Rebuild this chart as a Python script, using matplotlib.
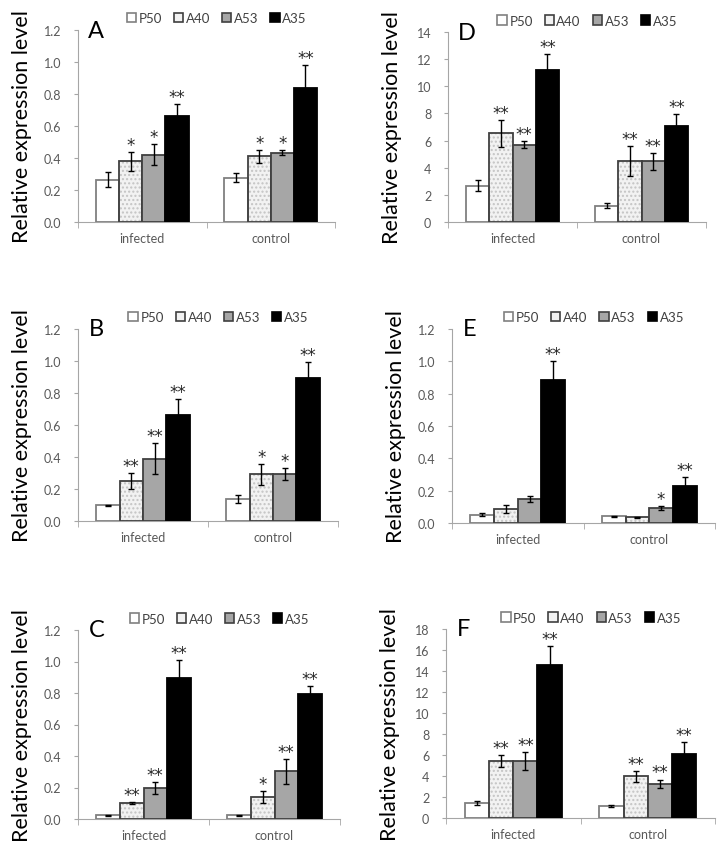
import numpy as np
import matplotlib
matplotlib.use("Agg")
import matplotlib.pyplot as plt
from matplotlib.patches import Patch

plt.rcParams['font.family'] = ['Lato', 'DejaVu Sans']

groups = ["infected", "control"]
lines = ["P50", "A40", "A53", "A35"]

# valores: [infected, control] x [P50, A40, A53, A35]
a_vals = [[0.265, 0.38, 0.42, 0.66], [0.277, 0.41, 0.433, 0.84]]
a_err = [[0.045, 0.06, 0.065, 0.075], [0.03, 0.04, 0.015, 0.14]]
a_sig = [["", "*", "*", "**"], ["", "*", "*", "**"]]

b_vals = [[0.098, 0.25, 0.39, 0.663], [0.137, 0.293, 0.293, 0.892]]
b_err = [[0.005, 0.05, 0.095, 0.10], [0.023, 0.065, 0.037, 0.10]]
b_sig = [["", "**", "**", "**"], ["", "*", "*", "**"]]

c_vals = [[0.025, 0.10, 0.197, 0.898], [0.025, 0.142, 0.302, 0.793]]
c_err = [[0.003, 0.005, 0.04, 0.11], [0.003, 0.038, 0.08, 0.053]]
c_sig = [["", "**", "**", "**"], ["", "*", "**", "**"]]

d_vals = [[2.66, 6.53, 5.71, 11.2], [1.2, 4.5, 4.46, 7.09]]
d_err = [[0.4, 1.0, 0.25, 1.2], [0.18, 1.1, 0.6, 0.85]]
d_sig = [["", "**", "**", "**"], ["", "**", "**", "**"]]

e_vals = [[0.052, 0.087, 0.148, 0.887], [0.041, 0.035, 0.093, 0.231]]
e_err = [[0.01, 0.027, 0.02, 0.117], [0.005, 0.005, 0.01, 0.051]]
e_sig = [["", "", "", "**"], ["", "", "*", "**"]]

f_vals = [[1.43, 5.45, 5.39, 14.54], [1.14, 3.96, 3.26, 6.12]]
f_err = [[0.2, 0.55, 0.85, 1.8], [0.12, 0.5, 0.4, 1.1]]
f_sig = [["", "**", "**", "**"], ["", "**", "**", "**"]]

faces = ["white", "#f2f2f2", "#a6a6a6", "black"]
edges = ["#808080", "#404040", "#404040", "black"]
axis_gray = "#a6a6a6"
text_gray = "#595959"

W, H = 726, 853
fig = plt.figure(figsize=(W / 100, H / 100), dpi=100)


def box(x0, x1, ytop, ybot):
    return [x0 / W, 1 - ybot / H, (x1 - x0) / W, (ybot - ytop) / H]


def painel(pos, letra, vals, err, sig, ymax, step):
    ax = fig.add_axes(pos)
    vals = np.array(vals)
    err = np.array(err)
    x = np.arange(len(groups))
    w = 0.18
    for i in range(len(lines)):
        xs = x + (i - 1.5) * w
        if i == 1:
            # fundo pontilhado
            ax.bar(xs, vals[:, i], w, color=faces[i], edgecolor="#c4c4c4",
                   hatch="....", linewidth=0, zorder=2)
            ax.bar(xs, vals[:, i], w, fill=False, edgecolor=edges[i],
                   linewidth=1.3, zorder=3)
        else:
            ax.bar(xs, vals[:, i], w, color=faces[i], edgecolor=edges[i],
                   linewidth=1.3, zorder=3)
        ax.errorbar(xs, vals[:, i], yerr=err[:, i], fmt="none", ecolor="black",
                    elinewidth=1.0, capsize=2.5, capthick=1.0, zorder=4)
        for g in range(len(groups)):
            if sig[g][i]:
                ax.annotate(sig[g][i], (xs[g], vals[g, i] + err[g, i]),
                            xytext=(0, 1.5), textcoords="offset points",
                            ha="center", va="baseline", fontsize=12,
                            color="#262626", family="DejaVu Sans")
    ax.set_xlim(-0.5, 1.5)
    ax.set_ylim(0, ymax)
    yt = np.arange(0, ymax + step / 2, step)
    ax.set_yticks(yt)
    if step < 1:
        ax.set_yticklabels([f"{v:.1f}" for v in yt])
    else:
        ax.set_yticklabels([f"{v:g}" for v in yt])
    ax.set_xticks(x)
    ax.set_xticklabels(groups)
    ax.set_xticks([-0.5, 0.5, 1.5], minor=True)
    ax.tick_params(axis="x", which="major", length=0, labelsize=9,
                   labelcolor=text_gray, pad=7)
    ax.tick_params(axis="x", which="minor", length=4, color=axis_gray,
                   direction="out")
    ax.tick_params(axis="y", length=3, color=axis_gray, labelsize=9,
                   labelcolor=text_gray, pad=9)
    for s in ["top", "right"]:
        ax.spines[s].set_visible(False)
    for s in ["left", "bottom"]:
        ax.spines[s].set_color(axis_gray)
    ax.text(0.04, 1.0, letra, transform=ax.transAxes, fontsize=17,
            ha="left", va="center", color="black")
    handles = [Patch(facecolor=faces[i], edgecolor=edges[i], linewidth=1.2)
               for i in range(4)]
    ax.legend(handles, lines, ncol=4, loc="center", bbox_to_anchor=(0.54, 1.06),
              frameon=False, fontsize=9.5, handlelength=0.7, handleheight=0.7,
              handletextpad=0.2, columnspacing=0.9, labelcolor="#404040",
              borderaxespad=0)
    fig.text(pos[0] - 56 / W, pos[1] + pos[3] / 2, "Relative expression level",
             rotation=90, ha="center", va="center", fontsize=15.5)
    return ax


painel(box(78, 335, 31, 223), "A", a_vals, a_err, a_sig, 1.2, 0.2)
painel(box(78, 338, 330, 522), "B", b_vals, b_err, b_sig, 1.2, 0.2)
painel(box(78, 340, 631, 820), "C", c_vals, c_err, c_sig, 1.2, 0.2)
painel(box(448, 706, 33, 223), "D", d_vals, d_err, d_sig, 14, 2)
painel(box(452, 715, 330, 524), "E", e_vals, e_err, e_sig, 1.2, 0.2)
painel(box(446, 715, 630, 819), "F", f_vals, f_err, f_sig, 18, 2)

fig.savefig("out.png", dpi=100)
